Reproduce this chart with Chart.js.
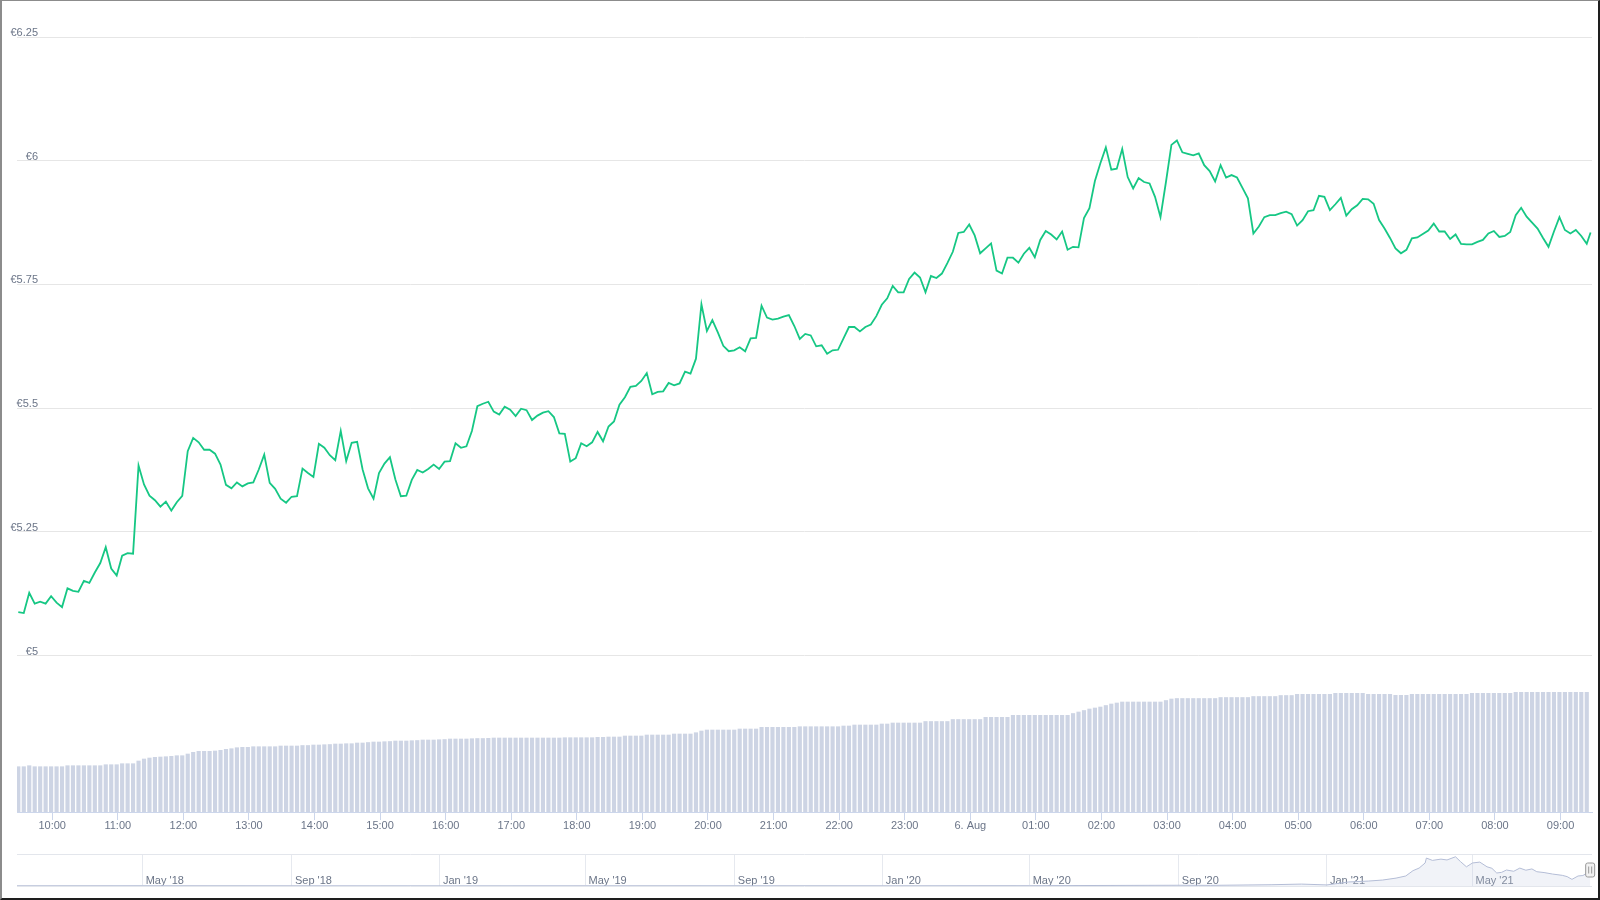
<!DOCTYPE html>
<html>
<head>
<meta charset="utf-8">
<title>Price chart</title>
<script src="https://cdn.jsdelivr.net/npm/chart.js@4.4.1/dist/chart.umd.min.js"></script>
<style>
    html, body { margin: 0; padding: 0; background: #fff; }
    #page { position: relative; width: 1600px; height: 900px; overflow: hidden; }
    canvas { position: absolute; left: 0; }
    #main-chart { top: 0; }
    #nav-chart { top: 846px; }
    #frame {
        position: absolute; left: 0; top: 0; width: 1600px; height: 900px; box-sizing: border-box;
        border-top: 1px solid #8c8c8c; border-left: 2px solid #8c8c8c;
        border-right: 2px solid #1e1e1e; border-bottom: 2px solid #1e1e1e;
        pointer-events: none;
    }
</style>
</head>
<body>
<div id="page">
    <canvas id="main-chart" width="1600" height="850"></canvas>
    <canvas id="nav-chart" width="1600" height="46"></canvas>
    <div id="frame"></div>
</div>
<script>
// 5-minute candles, 09:29 on 5 Aug to 09:24 on 6 Aug (minutes since 00:00 on 5 Aug)
const startMinute = 569;
const stepMinutes = 5;

// price in EUR, one row per hour
const prices = [
    5.088, 5.086, 5.127, 5.105, 5.109, 5.105, 5.120, 5.107, 5.098, 5.136, 5.131, 5.129,
    5.151, 5.147, 5.168, 5.187, 5.219, 5.176, 5.162, 5.202, 5.207, 5.206, 5.384, 5.346,
    5.323, 5.314, 5.301, 5.311, 5.293, 5.310, 5.323, 5.413, 5.440, 5.431, 5.416, 5.416,
    5.408, 5.386, 5.345, 5.338, 5.350, 5.342, 5.348, 5.350, 5.376, 5.406, 5.349, 5.337,
    5.317, 5.309, 5.321, 5.322, 5.378, 5.369, 5.361, 5.428, 5.420, 5.405, 5.395, 5.454,
    5.393, 5.430, 5.432, 5.376, 5.338, 5.317, 5.369, 5.388, 5.401, 5.356, 5.322, 5.323,
    5.355, 5.375, 5.370, 5.377, 5.386, 5.377, 5.392, 5.393, 5.429, 5.420, 5.423, 5.454,
    5.504, 5.509, 5.513, 5.493, 5.487, 5.503, 5.497, 5.484, 5.499, 5.496, 5.476, 5.485,
    5.491, 5.494, 5.482, 5.449, 5.448, 5.392, 5.399, 5.429, 5.423, 5.431, 5.452, 5.433,
    5.463, 5.473, 5.507, 5.522, 5.543, 5.545, 5.555, 5.571, 5.528, 5.533, 5.534, 5.551,
    5.546, 5.550, 5.574, 5.570, 5.600, 5.710, 5.656, 5.678, 5.653, 5.626, 5.615, 5.617,
    5.623, 5.615, 5.641, 5.642, 5.707, 5.683, 5.679, 5.681, 5.685, 5.688, 5.666, 5.640,
    5.650, 5.647, 5.625, 5.627, 5.610, 5.617, 5.618, 5.641, 5.664, 5.664, 5.655, 5.664,
    5.669, 5.686, 5.709, 5.722, 5.747, 5.734, 5.734, 5.761, 5.774, 5.764, 5.734, 5.767,
    5.763, 5.772, 5.793, 5.816, 5.854, 5.856, 5.871, 5.849, 5.813, 5.823, 5.833, 5.778,
    5.772, 5.804, 5.804, 5.794, 5.812, 5.824, 5.805, 5.840, 5.858, 5.851, 5.841, 5.857,
    5.820, 5.826, 5.825, 5.884, 5.904, 5.959, 5.995, 6.027, 5.982, 5.984, 6.024, 5.967,
    5.944, 5.965, 5.957, 5.954, 5.927, 5.886, 5.957, 6.032, 6.041, 6.017, 6.014, 6.011,
    6.015, 5.991, 5.979, 5.958, 5.991, 5.966, 5.971, 5.966, 5.945, 5.924, 5.853, 5.867,
    5.886, 5.890, 5.890, 5.894, 5.897, 5.892, 5.869, 5.880, 5.898, 5.900, 5.929, 5.927,
    5.900, 5.912, 5.925, 5.889, 5.902, 5.910, 5.923, 5.922, 5.913, 5.880, 5.863, 5.844,
    5.823, 5.813, 5.820, 5.843, 5.845, 5.852, 5.859, 5.873, 5.857, 5.857, 5.842, 5.851,
    5.832, 5.831, 5.831, 5.836, 5.840, 5.853, 5.858, 5.846, 5.848, 5.856, 5.890, 5.905,
    5.887, 5.875, 5.863, 5.844, 5.826, 5.857, 5.886, 5.860, 5.853, 5.860, 5.848, 5.832
];
// live price, a few minutes after the last candle
const lastPriceMinute = 2007.5;
const lastPrice = 5.855;

// 24h volume (M EUR) per candle
const volumes = [
    45.3, 45.3, 46.3, 45.3, 45.3, 45.3, 45.3, 45.3, 45.3, 46.3, 46.3, 46.3,
    46.3, 46.3, 46.3, 46.3, 47.3, 47.3, 47.3, 48.3, 48.3, 48.3, 51, 53,
    54, 54.7, 55, 55.3, 55.7, 56.3, 56.3, 58, 59.7, 60.7, 60.7, 60.7,
    61, 61.7, 62.7, 63.3, 64.3, 64.7, 64.7, 65.3, 65.3, 65.3, 65.3, 65.3,
    66, 66, 66, 66, 66.5, 66.5, 67, 67, 67.3, 67.5, 68, 68,
    68.3, 68.3, 69, 69, 69.5, 70, 70, 70.3, 70.5, 71, 71, 71,
    71.3, 71.5, 72, 72, 72, 72.3, 72.5, 73, 73, 73, 73, 73.3,
    73.5, 73.5, 73.7, 74, 74, 74, 74, 74, 74, 74, 74, 74,
    74, 74, 74, 74, 74.3, 74.3, 74.3, 74.3, 74.3, 74.3, 74.7, 74.7,
    75, 75, 75, 76, 76, 76, 76, 77, 77, 77, 77, 77,
    78, 78, 78, 78, 79.3, 81, 82, 82, 82, 82, 82, 82,
    83, 83, 83, 83, 84.7, 84.7, 84.7, 84.7, 84.7, 84.7, 84.7, 85.3,
    85.3, 85.3, 85.3, 85.3, 85.3, 85.3, 85.3, 86, 86, 87, 87, 87,
    87, 87, 88, 88, 89, 89, 89, 89, 89, 89, 90.5, 90.5,
    90.5, 90.5, 90.5, 92.5, 92.5, 92.5, 92.5, 92.5, 92.5, 94.7, 94.7, 94.7,
    94.7, 94.7, 96.7, 96.7, 96.7, 96.7, 96.7, 96.7, 96.7, 96.7, 96.7, 96.7,
    96.7, 98.5, 100, 101.5, 103, 104, 105, 106.5, 108, 109, 110, 110,
    110, 110, 110, 110, 110, 110, 111.5, 113, 113.5, 113.5, 113.5, 113.5,
    113.5, 113.5, 113.5, 113.5, 114.5, 114.5, 114.5, 114.5, 114.5, 114.5, 115.5, 115.5,
    115.5, 115.5, 115.5, 116.5, 116.5, 116.5, 117.7, 117.7, 117.7, 117.7, 117.7, 117.7,
    117.7, 118.7, 118.7, 118.7, 118.7, 118.7, 118.7, 117.7, 117.7, 117.7, 117.7, 117.7,
    116.7, 116.7, 116.7, 117.7, 117.7, 117.7, 117.7, 117.7, 117.7, 117.7, 117.7, 117.7,
    117.7, 117.7, 118.7, 118.7, 118.7, 118.7, 118.7, 118.7, 118.7, 118.7, 119.7, 119.7,
    119.7, 119.7, 119.7, 119.7, 119.7, 119.7, 119.7, 119.7, 119.7, 119.7, 119.7, 119.7
];

// x axis ticks (minutes) and their labels
const hourTicks = [600, 660, 720, 780, 840, 900, 960, 1020, 1080, 1140, 1200, 1260, 1320, 1380,
    1440, 1500, 1560, 1620, 1680, 1740, 1800, 1860, 1920, 1980];
const hourLabels = ['10:00', '11:00', '12:00', '13:00', '14:00', '15:00', '16:00', '17:00', '18:00',
    '19:00', '20:00', '21:00', '22:00', '23:00', '6. Aug', '01:00', '02:00', '03:00', '04:00',
    '05:00', '06:00', '07:00', '08:00', '09:00'];
const priceTicks = [5, 5.25, 5.5, 5.75, 6, 6.25];

// navigator: full history, days since 1 Jan 2018
const navDays = [16, 120, 243, 365, 485, 608, 730, 851, 974, 1000, 1050, 1075, 1096, 1114, 1130,
    1142, 1153, 1161, 1167, 1172, 1177, 1178, 1183, 1190, 1195, 1202, 1206, 1211, 1216, 1222,
    1228, 1232, 1236, 1240, 1244, 1250, 1255, 1260, 1265, 1269, 1275, 1282, 1290, 1294, 1298,
    1303, 1307, 1309, 1313];
const navPrices = [0.1, 0.12, 0.1, 0.08, 0.1, 0.12, 0.1, 0.15, 0.35, 0.3, 0.6, 0.9, 0.5, 1.9, 2.3,
    2.8, 3.7, 4.7, 7.2, 8.4, 10.8, 13.1, 12.0, 12.6, 12.2, 13.7, 11.5, 9.0, 10.8, 11.2,
    9.0, 8.3, 6.1, 6.4, 7.5, 6.9, 8.4, 7.4, 8.0, 6.7, 6.3, 5.6, 5.0, 4.4, 3.1,
    4.7, 4.9, 5.6, 5.85];
const navTicks = [120, 243, 365, 485, 608, 730, 851, 974, 1096, 1216];
const navLabels = ["May '18", "Sep '18", "Jan '19", "May '19", "Sep '19", "Jan '20", "May '20",
    "Sep '20", "Jan '21", "May '21"];

const labelColor = '#6b7588';
const gridColor = '#e6e6e6';
const axisColor = '#ccd6eb';

Chart.defaults.font.family = '"Liberation Sans", Arial, sans-serif';
Chart.defaults.font.size = 11;
Chart.defaults.color = labelColor;

const pricePoints = prices.map((p, i) => ({ x: startMinute + i * stepMinutes, y: p }));
pricePoints.push({ x: lastPriceMinute, y: lastPrice });
const volumePoints = volumes.map((v, i) => ({ x: startMinute + i * stepMinutes, y: v }));

new Chart(document.getElementById('main-chart'), {
    data: {
        datasets: [{
            type: 'line',
            data: pricePoints,
            yAxisID: 'y',
            borderColor: '#16c784',
            borderWidth: 1.8,
            pointRadius: 0,
            tension: 0
        }, {
            type: 'bar',
            data: volumePoints,
            yAxisID: 'yv',
            backgroundColor: '#cdd4e4',
            barThickness: 3.5
        }]
    },
    options: {
        responsive: false,
        animation: false,
        layout: { padding: { left: 17, right: 8, top: 37, bottom: 8 } },
        plugins: { legend: { display: false }, tooltip: { enabled: false } },
        scales: {
            x: {
                type: 'linear',
                offset: false,
                min: 567.8,
                max: 2008.8,
                afterBuildTicks: scale => { scale.ticks = hourTicks.map(v => ({ value: v })); },
                afterFit: scale => { scale.height = 30; },
                ticks: {
                    autoSkip: false,
                    maxRotation: 0,
                    padding: -1,
                    color: labelColor,
                    callback: (value, index) => hourLabels[index]
                },
                grid: { offset: false, drawOnChartArea: false, drawTicks: true, tickLength: 8, color: axisColor },
                border: { display: true, color: axisColor }
            },
            y: {
                position: 'left',
                min: 4.684,
                max: 6.25,
                afterBuildTicks: scale => { scale.ticks = priceTicks.map(v => ({ value: v })); },
                afterFit: scale => { scale.width = 0; },
                ticks: {
                    mirror: true,
                    crossAlign: 'far',
                    padding: -6.5,
                    labelOffset: -4,
                    color: labelColor,
                    callback: value => '€' + value
                },
                grid: { color: gridColor, drawTicks: false },
                border: { display: false }
            },
            yv: {
                display: false,
                min: 0,
                max: 775
            }
        }
    }
});

const navHandle = {
    id: 'navHandle',
    afterDraw(chart) {
        const ctx = chart.ctx;
        const area = chart.chartArea;
        const x = chart.scales.x.getPixelForValue(navDays[navDays.length - 1]);
        const cy = (area.top + area.bottom) / 2;
        ctx.save();
        ctx.beginPath();
        ctx.roundRect(x - 4.5, cy - 7, 9, 14, 2);
        ctx.fillStyle = '#f2f2f2';
        ctx.fill();
        ctx.strokeStyle = '#999999';
        ctx.lineWidth = 1;
        ctx.stroke();
        ctx.beginPath();
        ctx.moveTo(x - 1.5, cy - 3.5);
        ctx.lineTo(x - 1.5, cy + 3.5);
        ctx.moveTo(x + 1.5, cy - 3.5);
        ctx.lineTo(x + 1.5, cy + 3.5);
        ctx.stroke();
        ctx.restore();
    }
};

new Chart(document.getElementById('nav-chart'), {
    type: 'line',
    data: {
        datasets: [{
            data: navDays.map((d, i) => ({ x: d, y: navPrices[i] })),
            borderColor: '#b4bdd6',
            backgroundColor: 'rgba(200, 208, 228, 0.25)',
            borderWidth: 1,
            pointRadius: 0,
            tension: 0,
            fill: 'origin'
        }]
    },
    plugins: [navHandle],
    options: {
        responsive: false,
        animation: false,
        layout: { padding: { left: 17, right: 8, top: 8, bottom: 6 } },
        plugins: { legend: { display: false }, tooltip: { enabled: false } },
        scales: {
            x: {
                type: 'linear',
                min: 16.4,
                max: 1314.5,
                afterBuildTicks: scale => { scale.ticks = navTicks.map(v => ({ value: v })); },
                afterFit: scale => { scale.height = 0; },
                ticks: {
                    autoSkip: false,
                    maxRotation: 0,
                    mirror: true,
                    align: 'start',
                    labelOffset: 3,
                    padding: -2,
                    color: labelColor,
                    callback: (value, index) => navLabels[index]
                },
                grid: { drawTicks: false, color: '#e6e9ef' },
                border: { display: false }
            },
            y: {
                min: 0,
                max: 15,
                afterBuildTicks: scale => { scale.ticks = [{ value: 0 }, { value: 15 }]; },
                afterFit: scale => { scale.width = 0; },
                ticks: { display: false },
                grid: { drawTicks: false, color: '#e3e6ec' },
                border: { display: false }
            }
        }
    }
});
</script>
</body>
</html>
